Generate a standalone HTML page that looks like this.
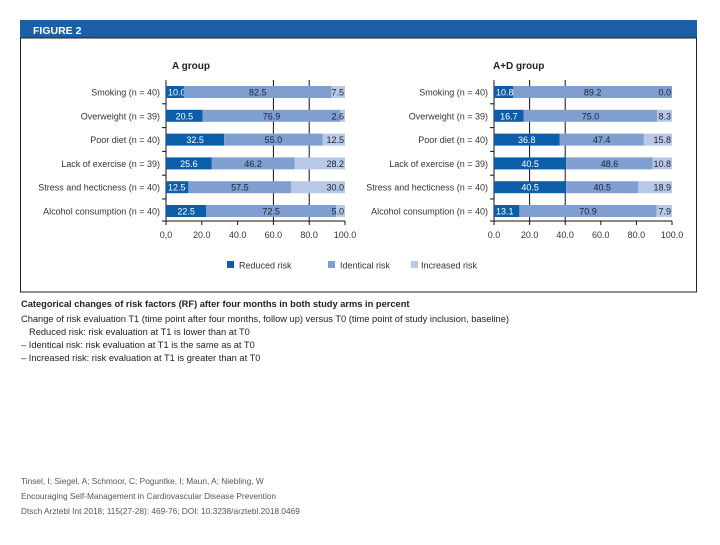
<!DOCTYPE html>
<html><head><meta charset="utf-8"><style>
body{margin:0;background:#fff;width:720px;height:540px;overflow:hidden;font-family:"Liberation Sans",sans-serif}
svg text{font-family:"Liberation Sans",sans-serif}
</style></head><body>
<svg width="720" height="540" xmlns="http://www.w3.org/2000/svg">
<rect x="20" y="20" width="677" height="18" fill="#1d5fa6"/>
<text x="33" y="34" font-size="10.5" font-weight="bold" fill="#fff">FIGURE 2</text>
<rect x="20.5" y="38" width="676" height="254" fill="none" stroke="#222" stroke-width="1"/>
<g id="charts"></g>
<g>
<rect x="227" y="261" width="7" height="7" fill="#0c5ea8"/>
<text x="239" y="268.5" font-size="9" fill="#333">Reduced risk</text>
<rect x="328" y="261" width="7" height="7" fill="#7e9fd0"/>
<text x="340" y="268.5" font-size="9" fill="#333">Identical risk</text>
<rect x="411" y="261" width="7" height="7" fill="#b7c9e7"/>
<text x="421" y="268.5" font-size="9" fill="#333">Increased risk</text>
</g>
<g font-size="9.3" fill="#222">
<text x="21" y="307" font-weight="bold">Categorical changes of risk factors (RF) after four months in both study arms in percent</text>
<text x="21" y="322">Change of risk evaluation T1 (time point after four months, follow up) versus T0 (time point of study inclusion, baseline)</text>
<text x="29" y="335">Reduced risk: risk evaluation at T1 is lower than at T0</text>
<text x="21" y="348">– Identical risk: risk evaluation at T1 is the same as at T0</text>
<text x="21" y="361">– Increased risk: risk evaluation at T1 is greater than at T0</text>
</g>
<g font-size="8.3" fill="#555">
<text x="21" y="484">Tinsel, I; Siegel, A; Schmoor, C; Poguntke, I; Maun, A; Niebling, W</text>
<text x="21" y="499">Encouraging Self-Management in Cardiovascular Disease Prevention</text>
<text x="21" y="514">Dtsch Arztebl Int 2018; 115(27-28): 469-76; DOI: 10.3238/arztebl.2018.0469</text>
</g>
</svg>
<script>
const categoriesA = ["Smoking (n = 40)","Overweight (n = 39)","Poor diet (n = 40)","Lack of exercise (n = 39)","Stress and hecticness (n = 40)","Alcohol consumption (n = 40)"];
const reducedA = [10.0,20.5,32.5,25.6,12.5,22.5];
const identicalA = [82.5,76.9,55.0,46.2,57.5,72.5];
const increasedA = [7.5,2.6,12.5,28.2,30.0,5.0];
const categoriesB = ["Smoking (n = 40)","Overweight (n = 39)","Poor diet (n = 40)","Lack of exercise (n = 39)","Stress and hecticness (n = 40)","Alcohol consumption (n = 40)"];
const reducedB = [10.8,16.7,36.8,40.5,40.5,13.1];
const identicalB = [89.2,75.0,47.4,48.6,40.5,70.9];
const increasedB = [0.0,8.3,15.8,10.8,18.9,7.9];
const tickValues = [0,20,40,60,80,100];
const tickLabelsA = ["0,0","20.0","40.0","60.0","80.0","100.0"];
const tickLabelsB = ["0.0","20.0","40.0","60.0","80.0","100.0"];
const NS="http://www.w3.org/2000/svg";
const root=document.getElementById('charts');
function mk(tag,attrs,parent){const e=document.createElementNS(NS,tag);for(const k in attrs)e.setAttribute(k,attrs[k]);parent.appendChild(e);return e;}
function chart(x0,x1,title,titleX,cats,red,ide,inc,labels,grid,key){
  const g=mk('g',{},root);
  
  
  const xs=v=>x0+(x1-x0)*v/100;
  const ys=i=>92+i*23.8;
  const axisY=221;
  const t=mk('text',{x:titleX,y:69,'font-size':10,'font-weight':'bold',fill:'#222'},g);t.textContent=title;
  
  
  grid.forEach(v=>{const l=mk('line',{x1:xs(v),x2:xs(v),y1:80,y2:axisY,stroke:'#111','stroke-width':1},g);
    
    });
  const ax=mk('line',{x1:x0-4,x2:x1,y1:axisY,y2:axisY,stroke:'#111'},g);
  
  
  const ay=mk('line',{x1:x0,x2:x0,y1:80,y2:axisY,stroke:'#111'},g);
  
  
  tickValues.forEach((v,i)=>{
    const tk=mk('line',{x1:xs(v),x2:xs(v),y1:axisY,y2:axisY+4,stroke:'#111'},g);
    
    
    const tl=mk('text',{x:xs(v),y:238,'font-size':9,fill:'#333','text-anchor':'middle'},g);tl.textContent=labels[i];
    
    
  });
  cats.forEach((c,i)=>{
    const y=ys(i);
    if(i>0){const tk=mk('line',{x1:x0-4,x2:x0,y1:y-12,y2:y-12,stroke:'#111'},g);
      
      }
    const lb=mk('text',{x:x0-6,y:y+3.5,'font-size':9,fill:'#333','text-anchor':'end'},g);lb.textContent=c;
    
    
    const total=red[i]+ide[i]+inc[i];
    const sc=v=>v*100/total;
    const segs=[[red[i],'#0c5ea8','#fff','reduced'],[ide[i],'#7e9fd0','#223','identical'],[inc[i],'#b7c9e7','#223','increased']];
    let acc=0;
    segs.forEach(([v,col,tc,nm],j)=>{
      const a=sc(acc), b=sc(acc+v);
      const r=mk('rect',{x:xs(a),y:y-6,width:xs(b)-xs(a),height:12,fill:col},g);
      
      
      const tx=j===2?xs(b)-1:xs((a+b)/2);
      const vt=mk('text',{x:tx,y:y+3.5,'font-size':9,fill:tc,'text-anchor':j===2?'end':'middle'},g);
      if(j===0&&v<14){vt.setAttribute('x',xs(0)+2);vt.setAttribute('text-anchor','start');}
      vt.textContent=v.toFixed(1);
      
      
      acc+=v;
    });
  });
}
chart(166,345,"A group",172,categoriesA,reducedA,identicalA,increasedA,tickLabelsA,[60,80],'a-group');
chart(494,672,"A+D group",493,categoriesB,reducedB,identicalB,increasedB,tickLabelsB,[20,40],'ad-group');
</script>
</body></html>
